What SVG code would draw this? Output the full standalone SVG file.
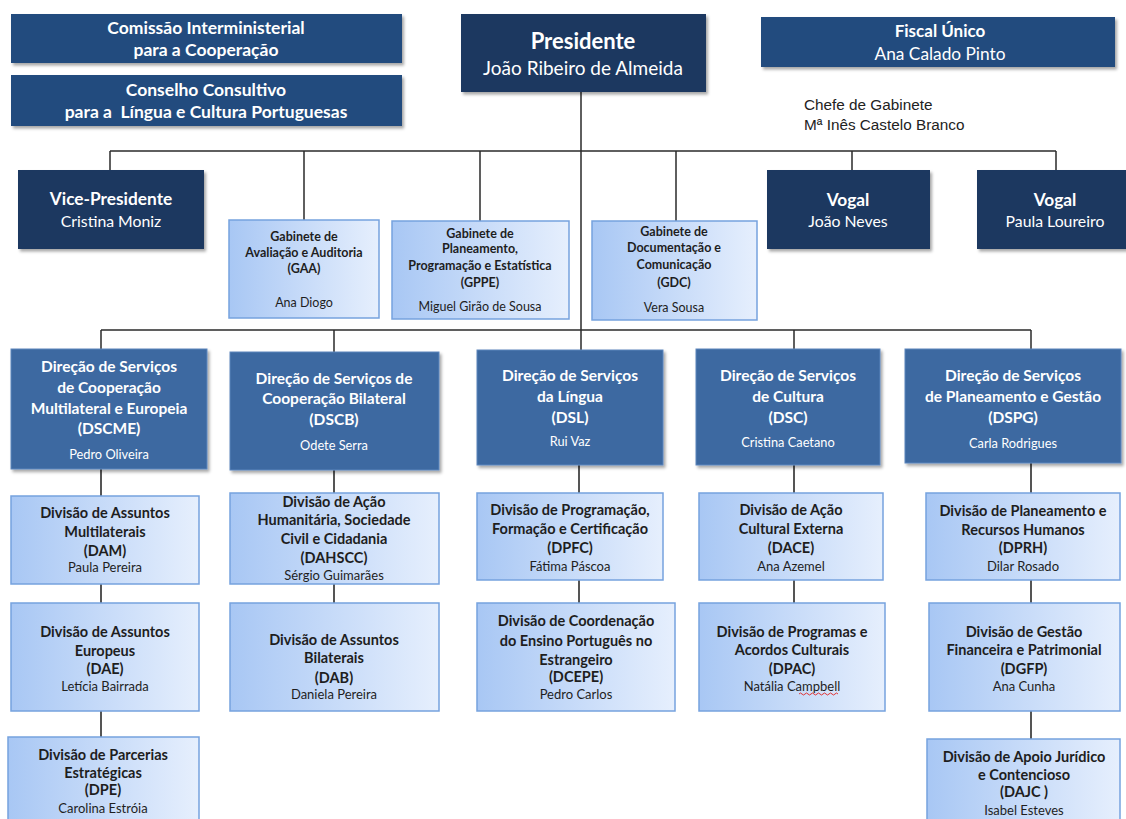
<svg xmlns="http://www.w3.org/2000/svg" width="1126" height="819" viewBox="0 0 1126 819">
<defs>
<linearGradient id="lg" x1="0" y1="0" x2="1" y2="0">
<stop offset="0" stop-color="#a8c7f4"/>
<stop offset="1" stop-color="#e6effd"/>
</linearGradient>
<filter id="sh" x="-10%" y="-10%" width="125%" height="130%">
<feDropShadow dx="2" dy="2.5" stdDeviation="1.5" flood-color="#000" flood-opacity="0.35"/>
</filter>
</defs>
<style>
.dk{fill:#1b3860;filter:url(#sh)}
.tp{fill:#214b7e;filter:url(#sh)}
.md{fill:#3d69a1;stroke:#5c86bc;stroke-width:1;filter:url(#sh)}
.lt{fill:url(#lg);stroke:#76a2de;stroke-width:1.5}
text{font-family:Lato,"Open Sans",sans-serif;text-anchor:middle}
.w{fill:#fff}
.k{fill:#1e1e1e}
.b{font-weight:bold}
.g1 text{font-size:12.5px}
.d1 text{font-size:15.5px}
.d1 text.n{font-size:12.8px;font-weight:normal}
.v1 text{font-size:14.5px}
.v1 text.n{font-size:13px;font-weight:normal}
.cn line{stroke:#2a2a2a;stroke-width:1.5}
.cn .g{stroke:#555;stroke-width:2}
</style>

<g id="connectors" class="cn">
<line x1="581" y1="92" x2="581" y2="330"/>
<line x1="110" y1="151" x2="1056" y2="151"/>
<line x1="110" y1="151" x2="110" y2="170"/>
<line x1="304" y1="151" x2="304" y2="220"/>
<line x1="480" y1="151" x2="480" y2="221"/>
<line x1="676" y1="151" x2="676" y2="221"/>
<line x1="852" y1="151" x2="852" y2="170"/>
<line x1="1056" y1="151" x2="1056" y2="170"/>
<line x1="101" y1="330" x2="1031" y2="330"/>
<line x1="101" y1="330" x2="101" y2="349"/>
<line x1="334" y1="330" x2="334" y2="352"/>
<line x1="581" y1="330" x2="581" y2="350"/>
<line x1="794" y1="330" x2="794" y2="349"/>
<line x1="1031" y1="330" x2="1031" y2="349"/>
<line class="g" x1="101" y1="469" x2="101" y2="496"/>
<line class="g" x1="101" y1="584" x2="101" y2="603"/>
<line class="g" x1="101" y1="711" x2="101" y2="737"/>
<line class="g" x1="334" y1="470" x2="334" y2="493"/>
<line class="g" x1="334" y1="584" x2="334" y2="603"/>
<line class="g" x1="579" y1="465" x2="579" y2="493"/>
<line class="g" x1="579" y1="580" x2="579" y2="603"/>
<line class="g" x1="794" y1="465" x2="794" y2="493"/>
<line class="g" x1="794" y1="580" x2="794" y2="603"/>
<line class="g" x1="1031" y1="463" x2="1031" y2="493"/>
<line class="g" x1="1031" y1="580" x2="1031" y2="603"/>
<line class="g" x1="1031" y1="711" x2="1031" y2="739"/>
</g>

<g id="comissao">
<rect class="tp" x="11" y="14" width="391" height="49"/>
<text class="w b" x="206" y="34" font-size="17.5">Comissão Interministerial</text>
<text class="w b" x="206" y="56" font-size="17.5">para a Cooperação</text>
</g>
<g id="conselho">
<rect class="tp" x="11" y="75" width="391" height="51"/>
<text class="w b" x="206" y="96" font-size="17.5">Conselho Consultivo</text>
<text class="w b" x="206" y="118" font-size="17.5" style="white-space:pre">para a  Língua e Cultura Portuguesas</text>
</g>
<g id="presidente">
<rect class="dk" x="461" y="14" width="245" height="78"/>
<text class="w b" x="583" y="49" font-size="22">Presidente</text>
<text class="w" x="583" y="75" font-size="19">João Ribeiro de Almeida</text>
</g>
<g id="fiscal">
<rect class="tp" x="761" y="17" width="354" height="50"/>
<text class="w b" x="940" y="37" font-size="17">Fiscal Único</text>
<text class="w" x="940" y="60" font-size="17.3">Ana Calado Pinto</text>
</g>
<g id="chefe">
<text x="804" y="110" font-size="15.3" style="font-family:'Liberation Sans',Arial,sans-serif;text-anchor:start;fill:#222">Chefe de Gabinete</text>
<text x="804" y="130" font-size="15.3" style="font-family:'Liberation Sans',Arial,sans-serif;text-anchor:start;fill:#222">Mª Inês Castelo Branco</text>
</g>

<g id="vice">
<rect class="dk" x="18" y="170" width="186" height="79"/>
<text class="w b" x="111" y="205" font-size="17.3">Vice-Presidente</text>
<text class="w" x="111" y="227" font-size="15.8">Cristina Moniz</text>
</g>
<g id="vogal1">
<rect class="dk" x="767" y="170" width="163" height="79"/>
<text class="w b" x="848" y="206" font-size="17.3">Vogal</text>
<text class="w" x="848" y="227" font-size="15.8">João Neves</text>
</g>
<g id="vogal2">
<rect class="dk" x="977" y="170" width="158" height="79"/>
<text class="w b" x="1055" y="206" font-size="17.3">Vogal</text>
<text class="w" x="1055" y="227" font-size="15.8">Paula Loureiro</text>
</g>

<g id="gaa" class="g1">
<rect class="lt" x="229" y="220" width="150" height="98"/>
<text class="k b" x="304" y="241">Gabinete de</text>
<text class="k b" x="304" y="257">Avaliação e Auditoria</text>
<text class="k b" x="304" y="273">(GAA)</text>
<text class="k" x="304" y="307">Ana Diogo</text>
</g>
<g id="gppe" class="g1">
<rect class="lt" x="392" y="221" width="177" height="98"/>
<text class="k b" x="480" y="238">Gabinete de</text>
<text class="k b" x="480" y="253">Planeamento,</text>
<text class="k b" x="480" y="270">Programação e Estatística</text>
<text class="k b" x="480" y="287">(GPPE)</text>
<text class="k" x="480" y="311">Miguel Girão de Sousa</text>
</g>
<g id="gdc" class="g1">
<rect class="lt" x="592" y="221" width="165" height="99"/>
<text class="k b" x="674" y="236">Gabinete de</text>
<text class="k b" x="674" y="252">Documentação e</text>
<text class="k b" x="674" y="269">Comunicação</text>
<text class="k b" x="674" y="287">(GDC)</text>
<text class="k" x="674" y="312">Vera Sousa</text>
</g>

<g id="dscme" class="d1">
<rect class="md" x="11" y="349" width="196" height="120"/>
<text class="w b" x="109" y="372">Direção de Serviços</text>
<text class="w b" x="109" y="393">de Cooperação</text>
<text class="w b" x="109" y="414">Multilateral e Europeia</text>
<text class="w b" x="109" y="434">(DSCME)</text>
<text class="w n" x="109" y="459">Pedro Oliveira</text>
</g>
<g id="dscb" class="d1">
<rect class="md" x="230" y="352" width="209" height="118"/>
<text class="w b" x="334" y="384">Direção de Serviços de</text>
<text class="w b" x="334" y="404">Cooperação Bilateral</text>
<text class="w b" x="334" y="425">(DSCB)</text>
<text class="w n" x="334" y="450">Odete Serra</text>
</g>
<g id="dsl" class="d1">
<rect class="md" x="477" y="350" width="186" height="115"/>
<text class="w b" x="570" y="381">Direção de Serviços</text>
<text class="w b" x="570" y="402">da Língua</text>
<text class="w b" x="570" y="423">(DSL)</text>
<text class="w n" x="570" y="446">Rui Vaz</text>
</g>
<g id="dsc" class="d1">
<rect class="md" x="696" y="349" width="184" height="116"/>
<text class="w b" x="788" y="381">Direção de Serviços</text>
<text class="w b" x="788" y="402">de Cultura</text>
<text class="w b" x="788" y="423">(DSC)</text>
<text class="w n" x="788" y="447">Cristina Caetano</text>
</g>
<g id="dspg" class="d1">
<rect class="md" x="905" y="349" width="216" height="114"/>
<text class="w b" x="1013" y="381">Direção de Serviços</text>
<text class="w b" x="1013" y="402">de Planeamento e Gestão</text>
<text class="w b" x="1013" y="423">(DSPG)</text>
<text class="w n" x="1013" y="448">Carla Rodrigues</text>
</g>

<g id="dam" class="v1">
<rect class="lt" x="11" y="496" width="188" height="88"/>
<text class="k b" x="105" y="518">Divisão de Assuntos</text>
<text class="k b" x="105" y="537">Multilaterais</text>
<text class="k b" x="105" y="556">(DAM)</text>
<text class="k n" x="105" y="572">Paula Pereira</text>
</g>
<g id="dahscc" class="v1">
<rect class="lt" x="230" y="493" width="209" height="91"/>
<text class="k b" x="334" y="507">Divisão de Ação</text>
<text class="k b" x="334" y="525">Humanitária, Sociedade</text>
<text class="k b" x="334" y="544">Civil e Cidadania</text>
<text class="k b" x="334" y="563">(DAHSCC)</text>
<text class="k n" x="334" y="580">Sérgio Guimarães</text>
</g>
<g id="dae" class="v1">
<rect class="lt" x="11" y="603" width="188" height="108"/>
<text class="k b" x="105" y="637">Divisão de Assuntos</text>
<text class="k b" x="105" y="656">Europeus</text>
<text class="k b" x="105" y="674">(DAE)</text>
<text class="k n" x="105" y="691">Letícia Bairrada</text>
</g>
<g id="dab" class="v1">
<rect class="lt" x="230" y="603" width="209" height="108"/>
<text class="k b" x="334" y="645">Divisão de Assuntos</text>
<text class="k b" x="334" y="663">Bilaterais</text>
<text class="k b" x="334" y="683">(DAB)</text>
<text class="k n" x="334" y="699">Daniela Pereira</text>
</g>
<g id="dpe" class="v1">
<rect class="lt" x="8" y="737" width="191" height="90"/>
<text class="k b" x="103" y="760">Divisão de Parcerias</text>
<text class="k b" x="103" y="778">Estratégicas</text>
<text class="k b" x="103" y="795">(DPE)</text>
<text class="k n" x="103" y="813">Carolina Estróia</text>
</g>

<g id="dpfc" class="v1">
<rect class="lt" x="477" y="493" width="186" height="87"/>
<text class="k b" x="570" y="515">Divisão de Programação,</text>
<text class="k b" x="570" y="534">Formação e Certificação</text>
<text class="k b" x="570" y="553">(DPFC)</text>
<text class="k n" x="570" y="571">Fátima Páscoa</text>
</g>
<g id="dcepe" class="v1">
<rect class="lt" x="477" y="603" width="198" height="108"/>
<text class="k b" x="576" y="626">Divisão de Coordenação</text>
<text class="k b" x="576" y="646">do Ensino Português no</text>
<text class="k b" x="576" y="665">Estrangeiro</text>
<text class="k b" x="576" y="682">(DCEPE)</text>
<text class="k n" x="576" y="699">Pedro Carlos</text>
</g>
<g id="dace" class="v1">
<rect class="lt" x="699" y="493" width="184" height="87"/>
<text class="k b" x="791" y="515">Divisão de Ação</text>
<text class="k b" x="791" y="534">Cultural Externa</text>
<text class="k b" x="791" y="553">(DACE)</text>
<text class="k n" x="791" y="571">Ana Azemel</text>
</g>
<g id="dpac" class="v1">
<rect class="lt" x="699" y="603" width="186" height="108"/>
<text class="k b" x="792" y="637">Divisão de Programas e</text>
<text class="k b" x="792" y="655">Acordos Culturais</text>
<text class="k b" x="792" y="674">(DPAC)</text>
<text class="k n" x="792" y="691">Natália Campbell</text>
<path d="M799 694 q1.5 -2 3 0 t3 0 t3 0 t3 0 t3 0 t3 0 t3 0 t3 0 t3 0 t3 0 t3 0 t3 0 t3 0" fill="none" stroke="#e02020" stroke-width="0.9"/>
</g>
<g id="dprh" class="v1">
<rect class="lt" x="926" y="493" width="194" height="87"/>
<text class="k b" x="1023" y="516">Divisão de Planeamento e</text>
<text class="k b" x="1023" y="535">Recursos Humanos</text>
<text class="k b" x="1023" y="553">(DPRH)</text>
<text class="k n" x="1023" y="571">Dilar Rosado</text>
</g>
<g id="dgfp" class="v1">
<rect class="lt" x="929" y="603" width="191" height="108"/>
<text class="k b" x="1024" y="637">Divisão de Gestão</text>
<text class="k b" x="1024" y="655">Financeira e Patrimonial</text>
<text class="k b" x="1024" y="674">(DGFP)</text>
<text class="k n" x="1024" y="691">Ana Cunha</text>
</g>
<g id="dajc" class="v1">
<rect class="lt" x="927" y="739" width="193" height="90"/>
<text class="k b" x="1024" y="762">Divisão de Apoio Jurídico</text>
<text class="k b" x="1024" y="780">e Contencioso</text>
<text class="k b" x="1024" y="797">(DAJC )</text>
<text class="k n" x="1024" y="815">Isabel Esteves</text>
</g>
</svg>
